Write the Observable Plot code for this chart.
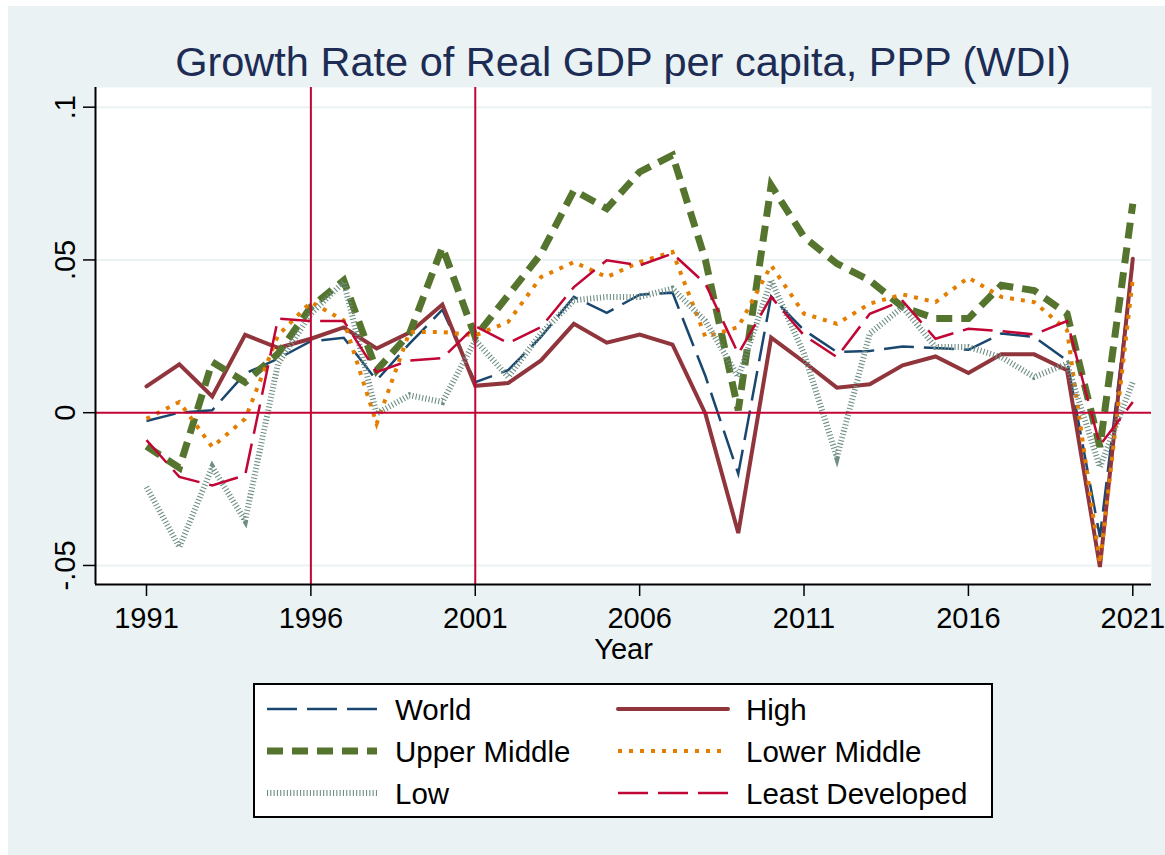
<!DOCTYPE html>
<html><head><meta charset="utf-8">
<script src="https://cdn.jsdelivr.net/npm/d3@7"></script>
<script src="https://cdn.jsdelivr.net/npm/@observablehq/plot@0.6"></script>
<style>
body{margin:0;background:#fff;}
#wrap{position:relative;width:1165px;height:855px;background:#fff;overflow:hidden;font-family:"Liberation Sans",Arial,sans-serif;}
#bg{position:absolute;left:8px;top:6px;width:1157px;height:849px;background:#eaf2f3;}
#title{position:absolute;left:95px;width:1056px;top:41px;font-size:41.5px;line-height:41px;text-align:center;color:#1c2c54;white-space:nowrap;}
#chart{position:absolute;left:0;top:77px;}
#legend{position:absolute;left:253px;top:683px;}
</style></head><body>
<div id="wrap"><div id="bg"></div><div id="title">Growth Rate of Real GDP per capita, PPP (WDI)</div><div id="chart"></div><div id="legend"></div></div>
<script>
const years = [1991,1992,1993,1994,1995,1996,1997,1998,1999,2000,2001,2002,2003,2004,2005,2006,2007,2008,2009,2010,2011,2012,2013,2014,2015,2016,2017,2018,2019,2020,2021];
const world = [-0.0027,0.0000,0.0008,0.0128,0.0177,0.0234,0.0245,0.0106,0.0226,0.0337,0.0100,0.0139,0.0248,0.0379,0.0327,0.0386,0.0393,0.0120,-0.0200,0.0381,0.0270,0.0199,0.0202,0.0217,0.0212,0.0206,0.0259,0.0248,0.0171,-0.0407,0.0490];
const high = [0.0086,0.0158,0.0053,0.0255,0.0212,0.0242,0.0279,0.0210,0.0262,0.0354,0.0088,0.0097,0.0171,0.0291,0.0229,0.0256,0.0223,-0.0003,-0.0394,0.0246,0.0166,0.0082,0.0093,0.0155,0.0184,0.0130,0.0191,0.0191,0.0139,-0.0505,0.0504];
const upperMiddle = [-0.0110,-0.0180,0.0166,0.0100,0.0193,0.0346,0.0433,0.0139,0.0259,0.0542,0.0248,0.0384,0.0520,0.0728,0.0668,0.0788,0.0843,0.0500,0.0008,0.0744,0.0575,0.0488,0.0433,0.0346,0.0308,0.0308,0.0417,0.0400,0.0324,-0.0112,0.0684];
const lowerMiddle = [-0.0020,0.0035,-0.0112,-0.0020,0.0253,0.0362,0.0302,-0.0036,0.0264,0.0264,0.0253,0.0297,0.0444,0.0493,0.0444,0.0493,0.0526,0.0248,0.0280,0.0482,0.0324,0.0291,0.0357,0.0387,0.0362,0.0442,0.0379,0.0362,0.0270,-0.0494,0.0438];
const low = [-0.0243,-0.0440,-0.0178,-0.0353,0.0160,0.0324,0.0428,-0.0003,0.0057,0.0035,0.0237,0.0117,0.0259,0.0368,0.0379,0.0379,0.0406,0.0300,0.0117,0.0433,0.0193,-0.0145,0.0259,0.0346,0.0215,0.0215,0.0182,0.0117,0.0160,-0.0178,0.0100];
const leastDeveloped = [-0.0090,-0.0210,-0.0238,-0.0205,0.0308,0.0300,0.0300,0.0133,0.0171,0.0179,0.0283,0.0228,0.0280,0.0411,0.0499,0.0482,0.0521,0.0422,0.0193,0.0379,0.0253,0.0182,0.0324,0.0366,0.0242,0.0275,0.0267,0.0256,0.0300,-0.0107,0.0035];

const xTicks = [1991,1996,2001,2006,2011,2016,2021];
const yTicks = [-0.05,0,0.05,0.1];
const yTickLabels = ["-.05","0",".05",".1"];
const refYears = [1996,2001];

const series = [
  {name:"World", values:world, stroke:"#1a476f", width:2.5, dash:"30,10", cap:"butt"},
  {name:"High", values:high, stroke:"#90353b", width:4, dash:null, cap:"round"},
  {name:"Upper Middle", values:upperMiddle, stroke:"#55752f", width:7, dash:"16,9", cap:"butt"},
  {name:"Lower Middle", values:lowerMiddle, stroke:"#e37e00", width:4, dash:"4,7", cap:"butt"},
  {name:"Low", values:low, stroke:"#6e8e84", width:6, dash:"1.1,2.2", cap:"butt"},
  {name:"Least Developed", values:leastDeveloped, stroke:"#c10534", width:2.5, dash:"30,10", cap:"butt"}
];

const xDomain = [1989.449, 2021.569];
const yDomain = [-0.05623, 0.10644];

const lineMarks = series.map(s => Plot.line(years.map((y,i)=>({year:y, value:s.values[i]})), {
  x:"year", y:"value", stroke:s.stroke, strokeWidth:s.width,
  strokeDasharray:s.dash || undefined, strokeLinecap:s.cap, strokeLinejoin:"miter", strokeMiterlimit:4
}));

const chart = Plot.plot({
  width:1165, height:597, marginTop:10, marginBottom:90, marginLeft:95, marginRight:14,
  style:{background:"transparent", fontFamily:'"Liberation Sans", Arial, sans-serif', fontSize:"29px", color:"#000", overflow:"visible"},
  x:{domain:xDomain, label:null},
  y:{domain:yDomain, label:null},
  marks:[
    Plot.frame({fill:"white", stroke:"none"}),
    Plot.ruleY(yTicks.filter(d=>d!==0), {stroke:"#eaf2f3", strokeWidth:2}),
    ...lineMarks,
    Plot.ruleX(refYears, {stroke:"#c10534", strokeWidth:2}),
    Plot.ruleY([0], {stroke:"#c10534", strokeWidth:2}),
    Plot.ruleX([xDomain[0]], {stroke:"#000", strokeWidth:2}),
    Plot.ruleY([yDomain[0]], {stroke:"#000", strokeWidth:2}),
    Plot.axisX({ticks:xTicks, tickFormat:"d", tickSize:12, tickPadding:11, fontSize:29, label:null, strokeWidth:1.5}),
    Plot.axisY({ticks:yTicks, tickSize:12, tickFormat:()=>"", label:null, strokeWidth:1.5}),
    Plot.text(yTicks, {y:d=>d, text:(d,i)=>yTickLabels[i], frameAnchor:"left", dx:-30, rotate:-90, fontSize:29, lineAnchor:"middle", textAnchor:"middle"}),
    Plot.text(["Year"], {text:d=>d, frameAnchor:"bottom", dy:65, fontSize:29, lineAnchor:"middle"})
  ]
});
document.getElementById("chart").appendChild(chart);

// legend
const lg = d3.select("#legend").append("svg").attr("width",740).attr("height",135)
  .style("font-family",'"Liberation Sans", Arial, sans-serif');
lg.append("rect").attr("x",1).attr("y",1).attr("width",738).attr("height",133)
  .attr("fill","white").attr("stroke","#000").attr("stroke-width",2);
series.forEach((s,i)=>{
  const col = i%2, row = Math.floor(i/2);
  const x0 = col ? 365 : 14, y = 26 + row*42;
  const ln = lg.append("line").attr("x1",x0).attr("x2",x0+110).attr("y1",y).attr("y2",y)
    .attr("stroke",s.stroke).attr("stroke-width",s.width).attr("stroke-linecap",s.cap);
  if (s.dash) ln.attr("stroke-dasharray",s.dash);
  lg.append("text").attr("x",x0+128).attr("y",y).attr("dy","0.36em")
    .attr("font-size",29.5).attr("fill","#000").text(s.name);
});
</script></body></html>
